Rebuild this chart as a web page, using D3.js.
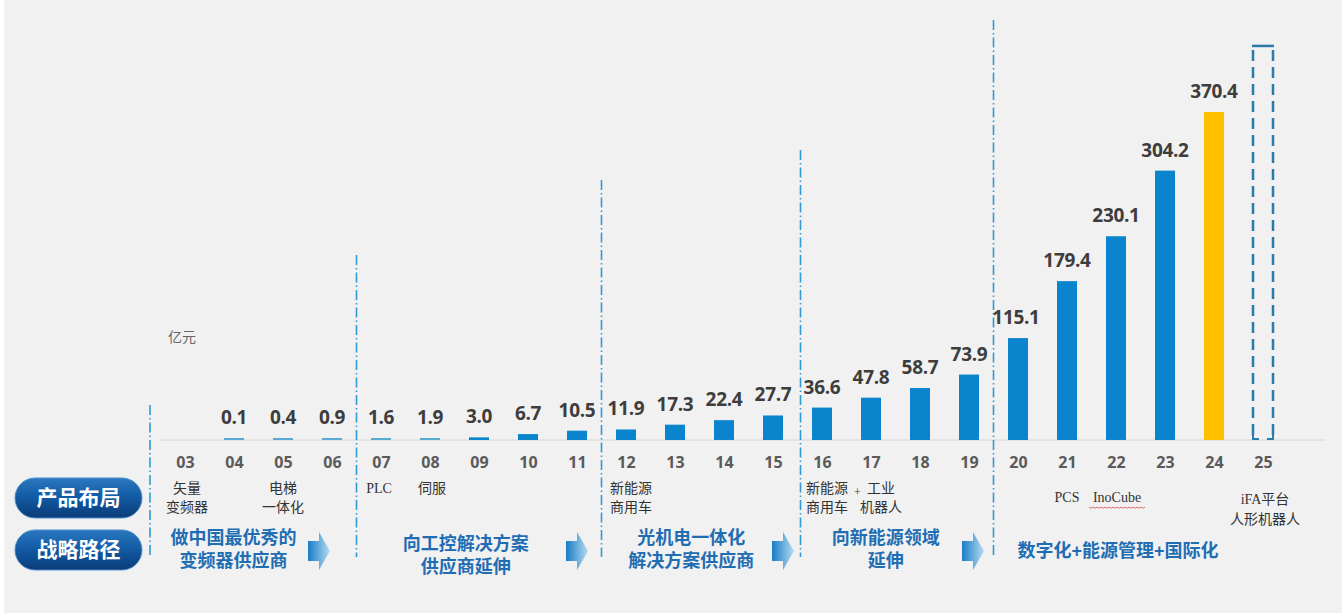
<!DOCTYPE html>
<html><head><meta charset="utf-8">
<script src="https://cdn.jsdelivr.net/npm/d3@7"></script>
<style>
html,body{margin:0;padding:0;background:#f1f1f1;}
svg{display:block;}
</style></head>
<body>
<svg id="chart" width="1342" height="613"></svg>
<script>
// ---------- data ----------
const years = ["03","04","05","06","07","08","09","10","11","12","13","14","15","16","17","18","19","20","21","22","23","24","25"];
const revenue = [null,0.1,0.4,0.9,1.6,1.9,3.0,6.7,10.5,11.9,17.3,22.4,27.7,36.6,47.8,58.7,73.9,115.1,179.4,230.1,304.2,370.4,null];
const highlightYear = "24";
const targetYear = "25";
const targetValue = 445;            // estimated height of the dashed placeholder box
const unitLabel = "亿元";
const rowTitles = ["产品布局","战略路径"];
const productYears = ["03","05","07","08","12","16","17","21","22","25"];
const productLines = [["矢量","变频器"],["电梯","一体化"],["PLC"],["伺服"],["新能源","商用车"],["新能源","商用车"],["工业","机器人"],["PCS"],["InoCube"],["iFA平台","人形机器人"]];
const stageStart = ["03","07","12","16","20"];
const stageEnd   = ["06","11","15","19","25"];
const stageLines = [["做中国最优秀的","变频器供应商"],["向工控解决方案","供应商延伸"],["光机电一体化","解决方案供应商"],["向新能源领域","延伸"],["数字化+能源管理+国际化"]];

// ---------- layout ----------
const svg = d3.select("#chart");
const W = 1342, H = 613;
svg.append("rect").attr("width",W).attr("height",H).attr("fill","#f1f1f1");
svg.append("rect").attr("width",4).attr("height",H).attr("fill","#ffffff");

const x = d3.scalePoint().domain(years).range([185,1263]);
const step = x.step();
const barW = 20;
const y = d3.scaleLinear().domain([0,370.4]).range([440,112]);
const baseY = y(0);

const defs = svg.append("defs");
const pg = defs.append("linearGradient").attr("id","pill").attr("x1",0).attr("y1",0).attr("x2",0).attr("y2",1);
pg.append("stop").attr("offset","0%").attr("stop-color","#2b78c0");
pg.append("stop").attr("offset","45%").attr("stop-color","#135ca6");
pg.append("stop").attr("offset","100%").attr("stop-color","#0a3b78");
const ag = defs.append("linearGradient").attr("id","arrow").attr("x1",0).attr("y1",0).attr("x2",1).attr("y2",0);
ag.append("stop").attr("offset","0%").attr("stop-color","#1a7cc6");
ag.append("stop").attr("offset","100%").attr("stop-color","#b5dbf2");

// baseline
svg.append("line").attr("x1",160).attr("x2",1325).attr("y1",baseY).attr("y2",baseY)
  .attr("stroke","#d6d6d6").attr("stroke-width",1);

// separators (dash-dot)
const sepTops = [405,255,180,150,20];
const sepX = stageStart.map((s,i)=> i===0 ? x(s)-35 : x(s)-step/2 + (i===3?3:0));
svg.selectAll("line.sep").data(sepX).enter().append("line").attr("class","sep")
  .attr("x1",d=>d).attr("x2",d=>d)
  .attr("y1",(d,i)=>sepTops[i]).attr("y2",557)
  .attr("stroke","#2f9bd2").attr("stroke-width",1.6)
  .attr("stroke-dasharray","10,3,1.5,3");

// bars
const barData = years.map((yr,i)=>({yr, v:revenue[i]})).filter(d=>d.v!==null);
svg.selectAll("rect.bar").data(barData).enter().append("rect").attr("class","bar")
  .attr("x",d=>x(d.yr)-barW/2)
  .attr("width",barW)
  .attr("y",d=>Math.min(y(d.v), baseY-2))
  .attr("height",d=>Math.max(baseY-y(d.v),2))
  .attr("fill",d=>d.yr===highlightYear ? "#ffc000" : (d.v<2 ? "#5aa9d2" : "#0a84cc"));

// value labels
svg.selectAll("text.val").data(barData).enter().append("text").attr("class","val")
  .attr("x",d=>x(d.yr) + (d.yr==="20"?-2:0))
  .attr("y",d=>Math.min(y(d.v), baseY-2) - 14)
  .attr("text-anchor","middle")
  .attr("font-family","'Open Sans','Noto Sans',sans-serif")
  .attr("font-weight",700).attr("font-size",19).attr("fill","#3d3d3d")
  .attr("letter-spacing","-0.3")
  .text(d=>d.v.toFixed(1));

// target placeholder (dashed box)
const tx = x(targetYear);
const box = svg.append("g");
box.append("line").attr("x1",tx-10).attr("x2",tx-10).attr("y1",y(targetValue)+4).attr("y2",baseY)
  .attr("stroke","#2b7cab").attr("stroke-width",2.5).attr("stroke-dasharray","11,6");
box.append("line").attr("x1",tx+10).attr("x2",tx+10).attr("y1",y(targetValue)+4).attr("y2",baseY)
  .attr("stroke","#2b7cab").attr("stroke-width",2.5).attr("stroke-dasharray","11,6");
box.append("line").attr("x1",tx-11).attr("x2",tx+11).attr("y1",y(targetValue)).attr("y2",y(targetValue))
  .attr("stroke","#2b7cab").attr("stroke-width",2.5);
box.append("path").attr("d",`M${tx-10},${baseY-8}V${baseY-1}H${tx-4}M${tx+10},${baseY-8}V${baseY-1}H${tx+4}`)
  .attr("fill","none").attr("stroke","#2b7cab").attr("stroke-width",2);

// unit label
svg.append("text").attr("x",168).attr("y",342).attr("font-family","'Noto Sans CJK SC',sans-serif")
  .attr("font-size",14).attr("fill","#666").text(unitLabel);

// year axis labels
const xAxis = d3.axisBottom(x).tickSize(0).tickPadding(0);
const ag2 = svg.append("g").attr("transform",`translate(0,${baseY+17})`).call(xAxis);
ag2.select(".domain").remove();
ag2.selectAll("text").attr("font-family","'Open Sans','Noto Sans',sans-serif")
  .attr("font-weight",700).attr("font-size",16).attr("fill","#5a5a5a").attr("dy","0.71em");

// product labels
const prodFont = "'Liberation Serif','Noto Sans CJK SC',serif";
const prodDx = {"03":2,"05":0,"07":-2,"08":2,"12":5,"16":5,"17":10,"21":0,"22":1,"25":2};
const prodY = {"21":[497],"22":[497],"25":[499,519]};
productYears.forEach((yr,i)=>{
  const lines = productLines[i];
  const ys = prodY[yr] || [488,507];
  lines.forEach((t,j)=>{
    svg.append("text").attr("x",x(yr)+prodDx[yr]).attr("y",ys[j]).attr("dy","0.35em")
      .attr("text-anchor","middle").attr("font-family",prodFont)
      .attr("font-size",14).attr("fill","#333").text(t);
  });
});
// "+" between 16 and 17
svg.append("text").attr("x",(x("16")+x("17"))/2+11).attr("y",492).attr("dy","0.35em")
  .attr("text-anchor","middle").attr("font-family",prodFont).attr("font-size",12).attr("fill","#333").text("+");
// spell-check wavy underline under InoCube
{
  const cx = x("22")+1, w = 56, yy = 507;
  svg.append("path").attr("d",`M${cx-w/2},${yy}`+d3.range(0,w,2).map(k=>`L${cx-w/2+k+2},${yy+((k/2)%2===0?1.3:0)}`).join(""))
    .attr("fill","none").attr("stroke","#d84a4a").attr("stroke-width",0.8);
}

// row title pills
rowTitles.forEach((t,i)=>{
  const py = i===0 ? 478 : 530;
  svg.append("rect").attr("x",15).attr("y",py).attr("width",127).attr("height",40).attr("rx",20)
    .attr("fill","url(#pill)").attr("stroke","#4f8fcc").attr("stroke-width",1);
  svg.append("text").attr("x",78.5).attr("y",py+20).attr("dy","0.35em").attr("text-anchor","middle")
    .attr("font-family","'Noto Sans CJK SC',sans-serif").attr("font-weight",700)
    .attr("font-size",21).attr("fill","#fff").text(t);
});

// strategy stages
const arrowOff = [-13,0,10,4];
stageStart.forEach((s,i)=>{
  const left = sepX[i];
  const hasArrow = i < stageStart.length-1;
  const ac = hasArrow ? x(stageEnd[i]) + arrowOff[i] : null;
  const cx = hasArrow ? (left + ac - 10)/2 + 4 : x("22")+2;
  const lines = stageLines[i];
  const y0 = lines.length===1 ? 551 : (i===1 ? 544 : 538);
  lines.forEach((t,j)=>{
    svg.append("text").attr("x",cx).attr("y",y0+j*23).attr("dy","0.35em").attr("text-anchor","middle")
      .attr("font-family","'Liberation Sans','Noto Sans CJK SC',sans-serif").attr("font-weight",700)
      .attr("font-size",18).attr("fill","#1f6db3").text(t);
  });
  if(hasArrow){
    const ax = ac-11, ay = 551;
    svg.append("path")
      .attr("d",`M${ax},${ay-10}H${ax+11}V${ay-19}L${ax+22},${ay}L${ax+11},${ay+19}V${ay+10}H${ax}Z`)
      .attr("fill","url(#arrow)");
  }
});
</script>
</body></html>
